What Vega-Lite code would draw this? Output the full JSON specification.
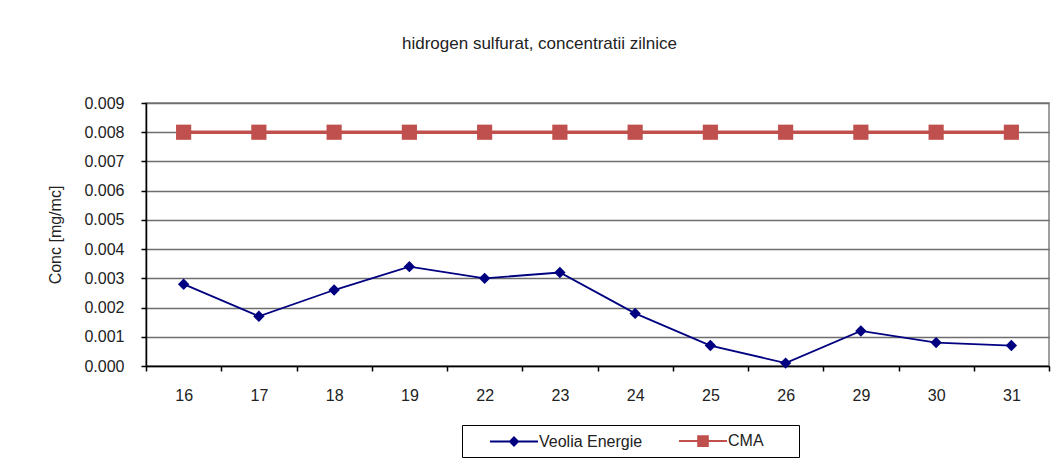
{
  "$schema": "https://vega.github.io/schema/vega-lite/v6.json",
  "width": 903,
  "height": 263,
  "autosize": {"type": "none"},
  "padding": {"left": 146, "top": 103, "right": 14, "bottom": 104},
  "background": "white",
  "title": {
    "text": "hidrogen sulfurat, concentratii zilnice",
    "font": "Liberation Sans",
    "fontSize": 17,
    "fontWeight": "normal",
    "color": "#222222",
    "anchor": "middle",
    "dx": -58,
    "offset": 42
  },
  "config": {
    "view": {"stroke": "#808080", "strokeWidth": 1.5},
    "font": "Liberation Sans"
  },
  "data": {
    "values": [
      {"day": "16", "series": "Veolia Energie", "value": 0.0028},
      {"day": "17", "series": "Veolia Energie", "value": 0.0017},
      {"day": "18", "series": "Veolia Energie", "value": 0.0026},
      {"day": "19", "series": "Veolia Energie", "value": 0.0034},
      {"day": "22", "series": "Veolia Energie", "value": 0.0030},
      {"day": "23", "series": "Veolia Energie", "value": 0.0032},
      {"day": "24", "series": "Veolia Energie", "value": 0.0018},
      {"day": "25", "series": "Veolia Energie", "value": 0.0007},
      {"day": "26", "series": "Veolia Energie", "value": 0.0001},
      {"day": "29", "series": "Veolia Energie", "value": 0.0012},
      {"day": "30", "series": "Veolia Energie", "value": 0.0008},
      {"day": "31", "series": "Veolia Energie", "value": 0.0007},
      {"day": "16", "series": "CMA", "value": 0.008},
      {"day": "17", "series": "CMA", "value": 0.008},
      {"day": "18", "series": "CMA", "value": 0.008},
      {"day": "19", "series": "CMA", "value": 0.008},
      {"day": "22", "series": "CMA", "value": 0.008},
      {"day": "23", "series": "CMA", "value": 0.008},
      {"day": "24", "series": "CMA", "value": 0.008},
      {"day": "25", "series": "CMA", "value": 0.008},
      {"day": "26", "series": "CMA", "value": 0.008},
      {"day": "29", "series": "CMA", "value": 0.008},
      {"day": "30", "series": "CMA", "value": 0.008},
      {"day": "31", "series": "CMA", "value": 0.008}
    ]
  },
  "encoding": {
    "x": {
      "field": "day",
      "type": "ordinal",
      "sort": null,
      "bandPosition": 0.5,
      "scale": {"type": "band", "paddingInner": 0, "paddingOuter": 0},
      "axis": {
        "title": null,
        "labelAngle": 0,
        "tickBand": "extent",
        "domainColor": "#000000",
        "domainWidth": 1.5,
        "tickColor": "#000000",
        "tickWidth": 1.5,
        "tickSize": 5,
        "labelPadding": 16,
        "labelFontSize": 16,
        "labelColor": "#222222",
        "grid": false
      }
    },
    "y": {
      "field": "value",
      "type": "quantitative",
      "scale": {"domain": [0, 0.009], "nice": false},
      "axis": {
        "title": "Conc [mg/mc]",
        "titleFontSize": 16,
        "titleFontWeight": "normal",
        "titleColor": "#222222",
        "titlePadding": 20,
        "values": [0, 0.001, 0.002, 0.003, 0.004, 0.005, 0.006, 0.007, 0.008, 0.009],
        "format": ".3f",
        "domainColor": "#000000",
        "domainWidth": 1.5,
        "tickColor": "#000000",
        "tickWidth": 1.5,
        "tickSize": 5,
        "labelPadding": 17,
        "labelFontSize": 16,
        "labelColor": "#222222",
        "grid": true,
        "gridColor": "#6e6e6e",
        "gridWidth": 1.5
      }
    },
    "color": {
      "field": "series",
      "type": "nominal",
      "scale": {"domain": ["Veolia Energie", "CMA"], "range": ["#000080", "#C0504D"]},
      "legend": {
        "title": "\u00a0",
        "titleOrient": "right",
        "titlePadding": 28,
        "titleFontSize": 16,
        "orient": "none",
        "legendX": 316,
        "legendY": 322,
        "direction": "horizontal",
        "strokeColor": "#000000",
        "padding": 7,
        "labelFontSize": 16,
        "labelColor": "#222222",
        "labelOffset": 0,
        "columnPadding": 15,
        "symbolSize": 256,
        "symbolOffset": 52,
        "symbolStrokeWidth": 2,
        "symbolType": "M-5,0H1",
        "encode": {
          "symbols": {
            "update": {
              "shape": {"signal": "datum.value === 'CMA' ? 'M-5,0H1M-2.6,-0.6H-1.4V0.6H-2.6Z' : 'M-5,0H1M-2,-0.5L-1.5,0L-2,0.5L-2.5,0Z'"},
              "fill": {"signal": "datum.value === 'CMA' ? '#C0504D' : '#000080'"},
              "stroke": {"signal": "datum.value === 'CMA' ? '#C0504D' : '#000080'"},
              "strokeWidth": {"value": 2}
            }
          }
        }
      }
    }
  },
  "layer": [
    {
      "transform": [{"filter": "datum.series === 'Veolia Energie'"}],
      "mark": {"type": "line", "strokeWidth": 1.8}
    },
    {
      "transform": [{"filter": "datum.series === 'CMA'"}],
      "mark": {"type": "line", "strokeWidth": 3.5}
    },
    {
      "transform": [{"filter": "datum.series === 'Veolia Energie'"}],
      "mark": {"type": "point", "filled": true, "opacity": 1, "shape": "diamond", "size": 130}
    },
    {
      "transform": [{"filter": "datum.series === 'CMA'"}],
      "mark": {"type": "point", "filled": true, "opacity": 1, "shape": "square", "size": 230}
    }
  ]
}
